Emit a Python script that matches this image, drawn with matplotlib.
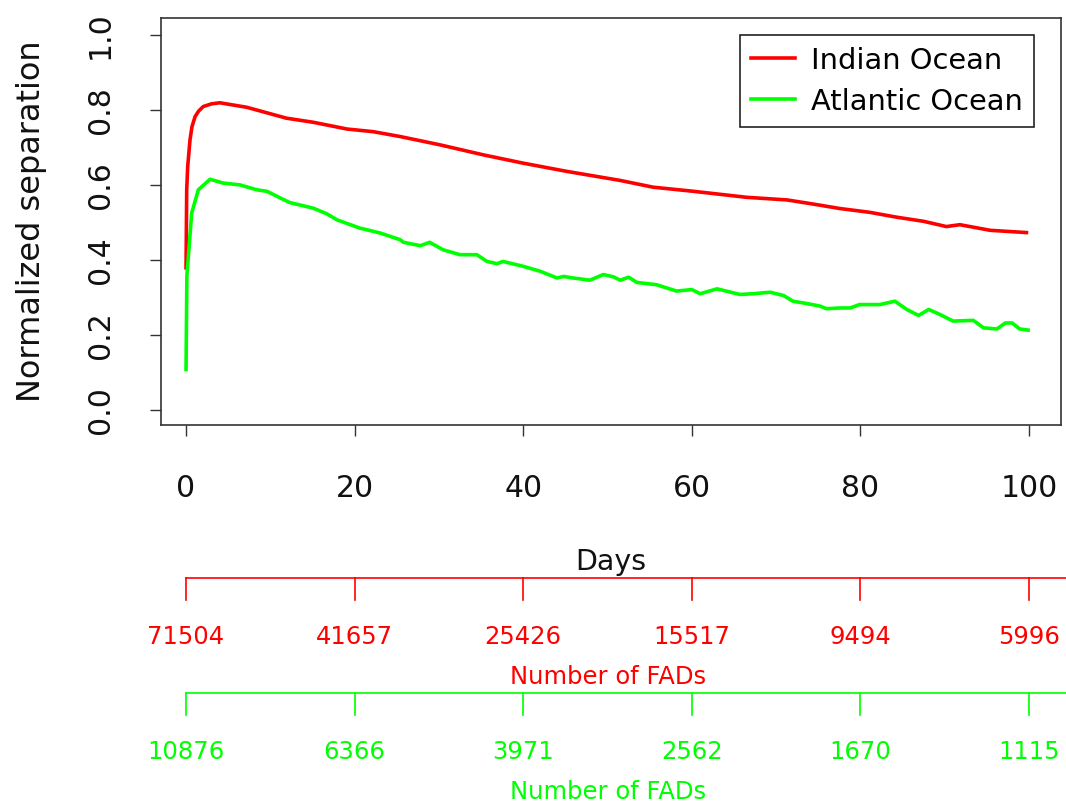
import matplotlib
matplotlib.use("Agg")
import matplotlib.pyplot as plt
import matplotlib.transforms as mtransforms

# Normalized separation
indian_days = [0, 0.08, 0.2, 0.47, 0.7, 1.07, 1.5, 2.05, 3.0, 4.0, 7.2, 11.9, 15.1, 19.1, 22.2,
               25.4, 30.1, 35.3, 40.0, 45.2, 51.5, 55.4, 60.2, 66.5, 71.3, 74.4, 77.6, 81.1,
               84.3, 87.5, 90.2, 91.8, 95.4, 99.7]
indian_sep = [0.379, 0.587, 0.65, 0.72, 0.755, 0.782, 0.797, 0.809, 0.816, 0.819, 0.807, 0.778,
              0.767, 0.749, 0.742, 0.729, 0.707, 0.68, 0.658, 0.636, 0.612, 0.594, 0.583, 0.567,
              0.56, 0.549, 0.537, 0.527, 0.514, 0.503, 0.489, 0.494, 0.479, 0.473]

atlantic_days = [0, 0.1, 0.67, 1.46, 2.85, 4.4, 6.4, 8.4, 9.6, 11.2, 12.3, 15.1, 16.7, 17.9,
                 20.6, 23.0, 25.4, 25.8, 27.8, 28.9, 30.5, 32.5, 34.5, 35.7, 36.9, 37.6, 40.0,
                 42.0, 44.0, 44.8, 45.9, 47.9, 49.5, 50.7, 51.5, 52.5, 53.5, 55.8, 58.2, 60.0,
                 61.0, 63.0, 65.7, 67.3, 69.3, 70.9, 72.0, 73.6, 75.2, 76.0, 77.6, 78.8, 79.9,
                 82.3, 84.1, 85.5, 86.9, 88.1, 89.4, 91.0, 93.4, 94.6, 96.2, 97.2, 98.0, 98.9,
                 99.9]
atlantic_sep = [0.108, 0.357, 0.525, 0.587, 0.615, 0.605, 0.600, 0.587, 0.583, 0.565, 0.553,
                0.538, 0.523, 0.507, 0.485, 0.472, 0.454, 0.447, 0.438, 0.447, 0.427, 0.414,
                0.414, 0.396, 0.390, 0.396, 0.383, 0.370, 0.352, 0.356, 0.352, 0.346, 0.361,
                0.355, 0.346, 0.354, 0.340, 0.334, 0.317, 0.321, 0.310, 0.323, 0.308, 0.310,
                0.314, 0.305, 0.290, 0.284, 0.277, 0.270, 0.272, 0.272, 0.281, 0.281, 0.290,
                0.268, 0.252, 0.268, 0.255, 0.237, 0.239, 0.219, 0.216, 0.232, 0.232, 0.216,
                0.213]

# Number of FADs at each day tick
fad_days = [0, 20, 40, 60, 80, 100]
indian_fads = ["71504", "41657", "25426", "15517", "9494", "5996"]
atlantic_fads = ["10876", "6366", "3971", "2562", "1670", "1115"]

RED = "#ff0000"
GREEN = "#00ff00"

fig = plt.figure(figsize=(10.66, 8.08), dpi=100)
ax = fig.add_axes([161 / 1066, 1 - 425 / 808, 900 / 1066, 407 / 808])

ax.plot(indian_days, indian_sep, color=RED, lw=2.6, label="Indian Ocean")
ax.plot(atlantic_days, atlantic_sep, color=GREEN, lw=2.6, label="Atlantic Ocean")

ax.set_xlim(-2.97, 103.8)
ax.set_ylim(-0.04, 1.045)
ax.set_xticks(fad_days)
ax.set_yticks([0.0, 0.2, 0.4, 0.6, 0.8, 1.0])
ax.set_yticklabels(["0.0", "0.2", "0.4", "0.6", "0.8", "1.0"], rotation=90, va="center")
ax.tick_params(labelsize=21.5, length=8, width=1, color="#333333", labelcolor="#111111")
ax.tick_params(axis="x", pad=27)
ax.tick_params(axis="y", pad=25)
for sp in ax.spines.values():
    sp.set_color("#333333")
    sp.set_linewidth(1.2)

ax.set_ylabel("Normalized separation", fontsize=23, color="#111111", labelpad=28)

leg = ax.legend(loc="upper right", bbox_to_anchor=(1034 / 1066, 1 - 35 / 808),
                bbox_transform=fig.transFigure, fontsize=20.8, frameon=True, fancybox=False,
                edgecolor="#222222", framealpha=1, borderaxespad=0, handlelength=1.5,
                handletextpad=0.55, labelspacing=0.45, borderpad=0.4)
leg.get_frame().set_linewidth(1.2)

fig.text(611 / 1066, 1 - 562 / 808, "Days", fontsize=20.5, ha="center", va="center",
         color="#111111")

# extra axes for the number of FADs, drawn below the plot
trans = mtransforms.blended_transform_factory(ax.transData, fig.transFigure)
for color, labels, y_line, y_lab, y_title in [
        (RED, indian_fads, 1 - 578 / 808, 1 - 637 / 808, 1 - 677 / 808),
        (GREEN, atlantic_fads, 1 - 693 / 808, 1 - 752 / 808, 1 - 792 / 808)]:
    ax.plot([0, 110], [y_line, y_line], color=color, lw=1.2, transform=trans, clip_on=False)
    for d, lab in zip(fad_days, labels):
        ax.plot([d, d], [y_line, y_line - 22 / 808], color=color, lw=1.2, transform=trans,
                clip_on=False)
        ax.text(d, y_lab, lab, color=color, fontsize=17.5, ha="center", va="center",
                transform=trans)
    fig.text(608 / 1066, y_title, "Number of FADs", color=color, fontsize=17.5, ha="center",
             va="center")

plt.savefig("out.png", dpi=100)
